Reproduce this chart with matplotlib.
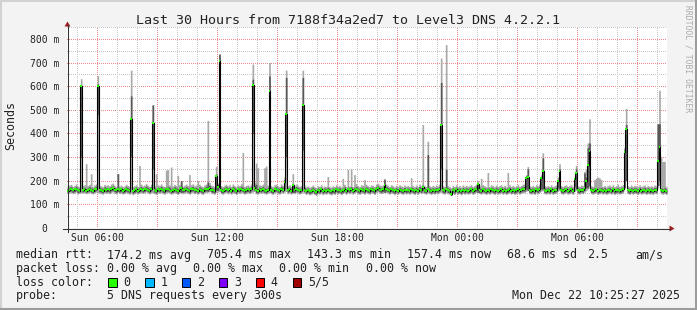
import numpy as np
import matplotlib
matplotlib.use('Agg')
import matplotlib.pyplot as plt
from matplotlib.patches import Rectangle, Polygon
from matplotlib.lines import Line2D
from matplotlib.colors import to_rgba

plt.rcParams['font.family'] = ['DejaVu Sans Mono']

# ---------------- data (5-minute samples, Sun 04:30 -> Mon 10:30) ----------------
start_hour = 4.5          # hours since Sun 00:00 at left edge
step_min = 5

median_ms = [
    158,162,165,160,163,167,160,158,600,160,163,158,
    161,165,160,158,163,166,600,162,160,158,164,161,
    163,160,165,168,162,159,166,160,163,158,160,164,
    161,158,460,155,160,163,158,162,165,160,163,167,
    162,158,165,444,160,157,163,161,166,160,158,163,
    165,162,158,160,164,161,157,163,168,160,162,165,
    161,158,163,166,160,162,158,164,160,157,163,165,
    166,170,162,160,158,218,175,705,160,158,162,165,
    160,163,158,165,161,157,163,160,166,162,158,161,
    163,160,165,607,170,160,158,163,161,165,160,158,
    162,580,160,157,163,165,160,158,166,161,194,481,
    160,163,158,183,160,165,162,158,161,520,162,157,
    160,155,158,162,157,153,160,158,163,156,160,158,
    162,158,155,160,157,163,159,161,156,160,164,158,
    163,160,165,158,162,166,160,157,163,161,158,164,
    160,158,163,161,157,165,168,162,160,163,180,165,
    162,158,163,160,156,161,158,163,160,157,162,159,
    161,158,163,160,157,162,158,165,160,172,160,158,
    163,160,157,161,158,162,160,165,438,160,158,163,
    160,158,143,161,157,163,158,160,155,162,158,161,
    158,160,163,157,161,165,185,160,158,163,160,157,
    161,158,163,160,157,162,158,160,163,158,161,157,
    160,163,158,161,157,160,163,158,161,165,164,212,
    216,160,158,161,157,163,160,165,210,240,160,158,
    161,158,163,157,160,162,197,242,160,158,161,163,
    158,160,163,157,207,233,160,158,162,160,170,200,
    265,325,160,158,161,163,157,160,162,158,161,157,
    160,162,158,163,157,160,161,158,160,163,320,421,
    160,157,162,158,161,160,157,163,158,160,162,157,
    161,158,160,157,162,160,282,342,160,158,161,157,
]

# outer smoke (fastest / slowest ping)
smoke_low_ms = [
    146,148,150,145,147,152,144,146,150,147,149,145,
    147,150,146,144,148,151,149,147,145,143,149,146,
    148,145,150,153,147,144,151,146,148,143,146,149,
    146,143,150,141,145,148,144,147,150,146,148,152,
    147,144,150,148,145,142,148,146,151,145,143,148,
    150,147,143,145,149,146,142,148,153,145,147,150,
    146,143,148,151,145,147,143,149,145,142,148,150,
    151,154,147,145,143,150,152,155,145,143,147,150,
    145,148,143,150,146,142,148,145,151,147,143,146,
    148,145,150,152,154,145,143,148,146,150,145,143,
    147,150,145,142,148,150,145,143,151,146,152,155,
    145,148,143,155,145,150,147,143,146,152,147,142,
    145,140,143,147,142,138,145,143,148,141,145,143,
    147,143,140,145,142,148,144,146,141,145,149,143,
    148,145,150,143,147,151,145,142,148,146,143,149,
    145,143,148,146,142,150,153,147,145,148,155,150,
    147,143,148,145,141,146,143,148,145,142,147,144,
    146,143,148,145,142,147,143,150,145,150,145,143,
    148,145,142,146,143,147,145,150,152,145,143,148,
    145,143,138,146,142,148,143,145,140,147,143,146,
    143,145,148,142,146,150,155,145,143,148,145,142,
    146,143,148,145,142,147,143,145,148,143,146,142,
    145,148,143,146,142,145,148,143,146,150,149,155,
    158,145,143,146,142,148,145,150,155,158,145,143,
    146,143,148,142,145,147,155,160,145,143,146,148,
    143,145,148,142,155,160,145,143,147,145,152,158,
    165,175,145,143,146,148,142,145,147,143,146,142,
    145,147,143,148,142,145,146,143,145,148,170,200,
    145,142,147,143,146,145,142,148,143,145,147,142,
    146,143,145,142,147,145,170,180,145,143,146,142,
]

smoke_high_ms = [
    178,182,185,176,180,186,177,175,632,179,183,272,
    180,185,230,176,182,187,645,181,178,175,184,180,
    183,178,186,190,181,176,230,178,182,175,179,185,
    180,176,668,174,179,183,176,265,186,178,182,188,
    181,176,185,523,179,230,183,180,187,178,176,245,
    247,182,258,178,184,180,223,183,200,178,181,186,
    180,226,183,187,178,182,201,185,179,175,183,186,
    455,192,182,179,176,261,190,736,179,176,181,185,
    179,183,176,186,180,175,183,179,187,320,176,180,
    183,178,186,694,192,275,255,183,180,186,255,262,
    181,701,179,175,183,186,179,176,187,180,215,668,
    179,183,176,230,178,186,181,176,180,668,182,175,
    178,173,176,182,175,171,179,176,183,174,178,176,
    218,176,173,179,175,183,177,180,174,210,185,176,
    248,178,251,176,226,187,179,175,183,180,205,185,
    179,176,183,180,175,186,190,182,179,183,210,186,
    181,176,183,179,174,180,176,183,179,175,182,177,
    180,176,213,179,175,182,176,186,179,438,179,176,
    367,179,175,180,176,182,179,186,719,179,176,776,
    179,176,170,180,175,183,176,179,173,182,176,180,
    176,179,183,175,180,186,200,179,210,183,179,175,
    235,176,183,179,175,182,176,179,183,176,180,175,
    235,183,176,180,175,179,183,176,180,186,185,225,
    260,179,176,180,175,183,179,186,225,318,179,176,
    180,176,183,175,179,182,215,272,179,176,180,183,
    176,179,183,175,215,265,179,176,182,179,240,250,
    360,462,179,176,205,211,216,212,205,176,180,175,
    179,182,176,183,175,179,186,176,179,183,340,506,
    179,175,182,176,180,179,175,183,176,179,182,175,
    180,176,179,175,182,179,441,583,300,282,282,176,
]

# inner (darker) smoke band (2nd / 4th ping)
dark_low_ms = [
    152,155,157,151,154,158,150,152,300,153,156,151,
    154,157,153,150,155,158,480,154,152,149,156,153,
    155,151,157,160,154,150,155,152,155,149,152,156,
    153,149,300,147,151,155,150,154,157,152,155,159,
    154,150,157,250,152,148,155,153,158,151,149,155,
    157,154,149,151,156,153,148,155,150,152,154,157,
    153,149,155,158,151,154,149,156,152,148,155,157,
    155,161,154,151,149,160,160,400,151,149,154,157,
    152,155,149,157,153,148,155,152,158,154,149,153,
    155,151,157,400,160,150,149,155,153,157,151,149,
    154,300,151,148,155,157,152,149,158,153,165,300,
    152,155,149,150,151,157,154,149,153,330,154,148,
    152,146,149,154,148,144,152,149,155,147,152,149,
    154,149,146,151,148,155,150,153,147,151,156,149,
    155,151,157,149,154,158,151,148,155,153,149,156,
    151,149,155,153,148,157,160,154,151,155,150,157,
    154,149,155,151,147,153,149,155,151,148,154,150,
    153,149,155,151,148,154,149,157,151,160,151,149,
    165,151,148,153,149,154,151,157,250,151,149,160,
    151,149,138,153,148,155,149,151,146,154,149,153,
    149,151,155,148,153,157,150,151,149,155,151,148,
    153,149,155,151,148,154,149,151,155,149,153,148,
    151,155,149,153,148,151,155,149,153,157,156,165,
    160,151,149,153,148,155,151,157,165,165,151,149,
    153,149,155,148,151,154,170,165,151,149,153,155,
    149,151,155,148,175,165,151,149,154,151,160,170,
    170,180,151,149,153,155,148,151,154,149,153,148,
    151,154,149,155,148,151,153,149,151,155,170,200,
    151,148,154,149,153,151,148,155,149,151,154,148,
    153,149,151,148,154,151,180,200,151,149,153,148,
]

dark_high_ms = [
    168,172,175,167,171,176,168,166,605,169,172,167,
    170,175,169,166,172,176,610,171,169,166,174,170,
    172,168,175,178,171,167,230,169,172,166,169,174,
    170,166,559,163,169,173,166,172,175,169,172,177,
    171,167,175,520,169,165,172,170,176,169,166,172,
    175,172,166,169,174,170,166,172,200,169,171,175,
    170,166,172,176,169,171,166,174,169,165,172,175,
    195,180,171,169,166,228,185,736,169,166,171,175,
    169,172,166,175,170,165,172,169,176,172,166,170,
    172,169,175,630,180,185,168,172,170,175,169,166,
    171,644,169,165,172,175,169,166,176,170,205,637,
    169,172,166,185,169,175,171,166,170,637,171,165,
    169,163,166,172,165,161,169,166,172,164,169,166,
    172,166,163,169,165,172,167,170,164,169,174,166,
    172,169,175,166,171,176,169,165,172,170,166,174,
    169,166,172,170,165,175,178,171,169,172,205,175,
    171,166,172,169,164,170,166,172,169,165,171,167,
    170,166,172,169,165,171,166,175,169,182,169,166,
    311,169,165,170,166,171,169,175,616,169,166,248,
    169,166,152,170,165,172,166,169,163,171,166,170,
    166,169,172,165,170,175,190,169,166,172,169,165,
    170,166,172,169,165,171,166,169,172,166,170,165,
    169,172,166,170,165,169,172,166,170,175,174,220,
    250,169,166,170,165,172,169,175,218,297,169,166,
    170,166,172,165,169,171,205,250,169,166,170,172,
    166,169,172,165,212,250,169,166,171,169,233,215,
    340,360,169,166,170,172,165,169,171,166,170,165,
    169,171,166,172,165,169,170,166,169,172,330,438,
    169,165,171,166,170,169,165,172,166,169,171,165,
    170,166,169,165,171,169,441,441,169,166,170,165,
]

ytick_vals = [0, 100, 200, 300, 400, 500, 600, 700, 800]
ytick_labels = ["0", "100 m", "200 m", "300 m", "400 m", "500 m", "600 m", "700 m", "800 m"]
xtick_hours = [6, 12, 18, 24, 30]
xtick_labels = ["Sun 06:00", "Sun 12:00", "Sun 18:00", "Mon 00:00", "Mon 06:00"]

title = "Last 30 Hours from 7188f34a2ed7 to Level3 DNS 4.2.2.1"
rtt_stats = [("174.2", "ms avg"), ("705.4", "ms max"), ("143.3", "ms min"),
             ("157.4", "ms now"), ("68.6", "ms sd")]
am_s = "2.5"
loss_stats = [("0.00", "% avg"), ("0.00", "% max"), ("0.00", "% min"), ("0.00", "% now")]
loss_labels = ["0", "1", "2", "3", "4", "5/5"]
loss_colors = ["#26ff00", "#00b8ff", "#0059ff", "#7e00ff", "#ff0000", "#a10000"]
probe_text = "5 DNS requests every 300s"
date_text = "Mon Dec 22 10:25:27 2025"

# ---------------- layout helpers ----------------
W, H = 697, 310
BG = '#f3f3f3'
fig = plt.figure(figsize=(W / 100, H / 100), dpi=100, facecolor=BG)


def fx(x):
    return x / W


def fy(y):
    return 1 - y / H


# plot area on whole pixels: columns 67..666, rows 27..227 (from top)
X0, X1 = 67, 667
Y0, Y1 = 228, 27
NX, NY = X1 - X0, Y0 - Y1
PX_PER_MS = 0.23625
PX_PER_HOUR = NX / 30
YMAX = NY / PX_PER_MS
ax = fig.add_axes([fx(X0), fy(Y0), NX / W, NY / H])
ax.set_facecolor('white')
for s in ax.spines.values():
    s.set_visible(False)
ax.set_xticks([])
ax.set_yticks([])

# grid: rrdtool style dotted lines, rendered pixel-exact
grid = np.zeros((NY, NX, 4))
MINOR = to_rgba('#c6c6c6')
MAJOR = to_rgba('#ec8a8a')
for v in range(50, int(YMAX) + 1, 50):
    r = int(round(NY - v * PX_PER_MS))
    if 0 <= r < NY:
        grid[r, 0::2] = MAJOR if v % 100 == 0 else MINOR
for h in range(5, 35):
    c = int(round((h - start_hour) * PX_PER_HOUR))
    if 0 <= c < NX:
        grid[1::2, c] = MAJOR if h % 3 == 0 else MINOR
ax.imshow(grid, extent=(start_hour, start_hour + 30, 0, YMAX), origin='upper',
          interpolation='nearest', aspect='auto', zorder=0.5)
ax.set_xlim(start_hour, start_hour + 30)
ax.set_ylim(0, YMAX)

# data
n = len(median_ms)
step_h = step_min / 60
t = start_hour + np.arange(n) * step_h
te = np.append(t, t[-1] + step_h)


def ext(a):
    a = np.asarray(a, float)
    return np.append(a, a[-1])


ax.fill_between(te, ext(smoke_low_ms), ext(smoke_high_ms), step='post',
                color='#a8a8a8', lw=0, zorder=1)
ax.fill_between(te, ext(dark_low_ms), ext(dark_high_ms), step='post',
                color='#585858', lw=0, zorder=2)
med = np.asarray(median_ms, float)
ax.step(te, ext(median_ms), where='post', color='black', lw=0.8, zorder=3)
ax.hlines(med, t, t + step_h, color='#26ff00', lw=1.5, zorder=4)

# axes lines and arrows
AX_COL = '#333333'
ARR_COL = '#a01c1c'
ax_y = Y0 + 0.5
ax_x = X0 + 0.5
fig.add_artist(Line2D([fx(63), fx(670)], [fy(ax_y), fy(ax_y)], color=AX_COL, lw=0.75))
fig.add_artist(Line2D([fx(ax_x), fx(ax_x)], [fy(232), fy(25)], color=AX_COL, lw=0.75))
fig.add_artist(Polygon([[fx(ax_x), fy(21.5)], [fx(ax_x - 3), fy(26.5)], [fx(ax_x + 3), fy(26.5)]],
                       closed=True, color=ARR_COL, lw=0))
fig.add_artist(Polygon([[fx(674.5), fy(ax_y)], [fx(669.5), fy(ax_y - 3)], [fx(669.5), fy(ax_y + 3)]],
                       closed=True, color=ARR_COL, lw=0))

TXT = '#222222'
# y tick labels
for v, lab in zip(ytick_vals, ytick_labels):
    ypx = ax_y - v * PX_PER_MS
    if lab.strip() == "0":
        fig.text(fx(44.5), fy(ypx + 3.4), lab, ha='center', va='baseline', fontsize=7, color=TXT)
    else:
        fig.text(fx(59.5), fy(ypx + 3.4), lab, ha='right', va='baseline', fontsize=7, color=TXT)

# x tick labels
for h, lab in zip(xtick_hours, xtick_labels):
    xpx = X0 + (h - start_hour) * PX_PER_HOUR
    fig.text(fx(xpx), fy(240.7), lab, ha='center', va='baseline', fontsize=7, color=TXT)

# title, y label, watermark
fig.text(fx(348.5), fy(24), title, ha='center', va='baseline', fontsize=9.6, color=TXT)
fig.text(fx(11), fy(126), "Seconds", rotation=90, ha='center', va='center', fontsize=8.4, color=TXT)
fig.text(fx(688), fy(5), "RRDTOOL / TOBI OETIKER", rotation=270, ha='center', va='top',
         fontsize=5.8, color='#aaaaaa')

# legend
LF = 8.4
b1, b2, b3, b4 = 258.5, 272.2, 285.8, 299.4
fig.text(fx(16), fy(b1), "median rtt:", ha='left', va='baseline', fontsize=LF, color=TXT)
for (val, unit), xp in zip(rtt_stats, [107.3, 207.3, 307.3, 407.3, 507.3]):
    fig.text(fx(xp), fy(b1), f"{val} {unit}", ha='left', va='baseline', fontsize=LF, color=TXT)
fig.text(fx(587), fy(b1), am_s, ha='left', va='baseline', fontsize=LF, color=TXT)
fig.text(fx(635.7), fy(b1), "am/s", ha='left', va='baseline', fontsize=LF, color=TXT)

fig.text(fx(16), fy(b2), "packet loss:", ha='left', va='baseline', fontsize=LF, color=TXT)
for (val, unit), xp in zip(loss_stats, [107.3, 193.3, 279.3, 366.0]):
    fig.text(fx(xp), fy(b2), f"{val} {unit}", ha='left', va='baseline', fontsize=LF, color=TXT)

fig.text(fx(16), fy(b3), "loss color:", ha='left', va='baseline', fontsize=LF, color=TXT)
for k, (lab, col) in enumerate(zip(loss_labels, loss_colors)):
    bx = 108.3 + k * 36.9
    fig.add_artist(Rectangle((fx(bx), fy(286.7)), 8.4 / W, 8.4 / H, facecolor=col,
                             edgecolor='black', lw=0.7))
    fig.text(fx(bx + 15), fy(b3), lab, ha='left', va='baseline', fontsize=LF, color=TXT)

fig.text(fx(16), fy(b4), "probe:", ha='left', va='baseline', fontsize=LF, color=TXT)
fig.text(fx(107.3), fy(b4), probe_text, ha='left', va='baseline', fontsize=LF, color=TXT)
fig.text(fx(680), fy(b4), date_text, ha='right', va='baseline', fontsize=LF, color=TXT)

# 3D frame
fig.add_artist(Line2D([0, 1], [fy(0.8), fy(0.8)], color='#d2d2d2', lw=1.5))
fig.add_artist(Line2D([fx(0.8), fx(0.8)], [0, 1], color='#d2d2d2', lw=1.5))
fig.add_artist(Line2D([0, 1], [fy(308.8), fy(308.8)], color='#9c9c9c', lw=2.2))
fig.add_artist(Line2D([fx(695.8), fx(695.8)], [0, 1], color='#9c9c9c', lw=2.2))

fig.savefig('out.png', dpi=100, facecolor=BG)
